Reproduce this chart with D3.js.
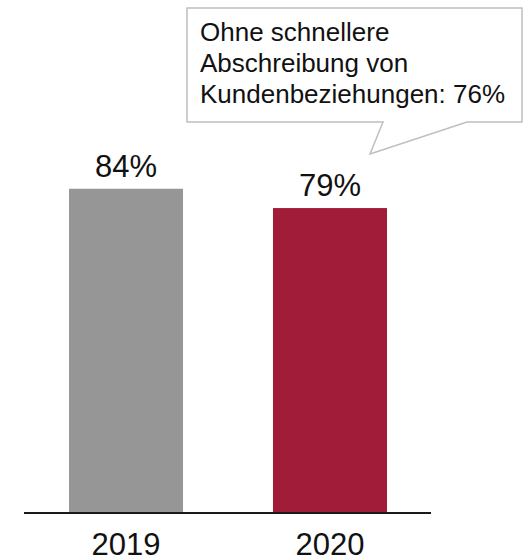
<!DOCTYPE html>
<html>
<head>
<meta charset="utf-8">
<script src="https://cdn.jsdelivr.net/npm/d3@7"></script>
<style>
  body { margin: 0; background: #fff; }
  svg { display: block; font-family: Arial, "Liberation Sans", sans-serif; }
</style>
</head>
<body>
<div id="chart"></div>
<script>
// data
const years = ["2019", "2020"];
const shares = [84, 79];
const barColors = ["#969696", "#a01c38"];
const noteLines = ["Ohne schnellere", "Abschreibung von", "Kundenbeziehungen: 76%"];

const width = 524, height = 557;
const baseY = 513;

const svg = d3.select("#chart").append("svg")
    .attr("width", width)
    .attr("height", height);

const x = d3.scaleBand()
    .domain(years)
    .range([24, 432])
    .paddingInner(0.441)
    .paddingOuter(0.2206);

const y = d3.scaleLinear()
    .domain([0, 100])
    .range([baseY, baseY - 386]);

const bars = years.map((yr, i) => ({year: yr, value: shares[i], color: barColors[i]}));

svg.selectAll("rect.bar")
    .data(bars)
    .join("rect")
    .attr("class", "bar")
    .attr("x", d => x(d.year))
    .attr("y", d => y(d.value))
    .attr("width", x.bandwidth())
    .attr("height", d => y(0) - y(d.value))
    .attr("fill", d => d.color);

// value labels
svg.selectAll("text.val")
    .data(bars)
    .join("text")
    .attr("class", "val")
    .attr("x", d => x(d.year) + x.bandwidth() / 2)
    .attr("y", d => y(d.value) - 12)
    .attr("text-anchor", "middle")
    .attr("font-size", 31)
    .attr("fill", "#111")
    .text(d => d.value + "%");

// baseline
svg.append("line")
    .attr("x1", 24).attr("x2", 431)
    .attr("y1", baseY).attr("y2", baseY)
    .attr("stroke", "#1a1a1a")
    .attr("stroke-width", 2);

// year labels
svg.selectAll("text.yr")
    .data(years)
    .join("text")
    .attr("class", "yr")
    .attr("x", d => x(d) + x.bandwidth() / 2)
    .attr("y", 555)
    .attr("text-anchor", "middle")
    .attr("font-size", 31)
    .attr("fill", "#111")
    .text(d => d);

// callout box
const box = {x0: 187, y0: 8, x1: 522, y1: 122};
const tip = [370, 154];
const callout = d3.path();
callout.moveTo(box.x0, box.y0);
callout.lineTo(box.x1, box.y0);
callout.lineTo(box.x1, box.y1);
callout.lineTo(467, box.y1);
callout.lineTo(tip[0], tip[1]);
callout.lineTo(383, box.y1);
callout.lineTo(box.x0, box.y1);
callout.closePath();

svg.append("path")
    .attr("d", callout.toString())
    .attr("fill", "#fff")
    .attr("stroke", "#bfbfbf")
    .attr("stroke-width", 1.5);

svg.append("g")
    .selectAll("text")
    .data(noteLines)
    .join("text")
    .attr("x", 200)
    .attr("y", (d, i) => 41 + i * 31)
    .attr("font-size", 26)
    .attr("fill", "#111")
    .text(d => d);
</script>
</body>
</html>
